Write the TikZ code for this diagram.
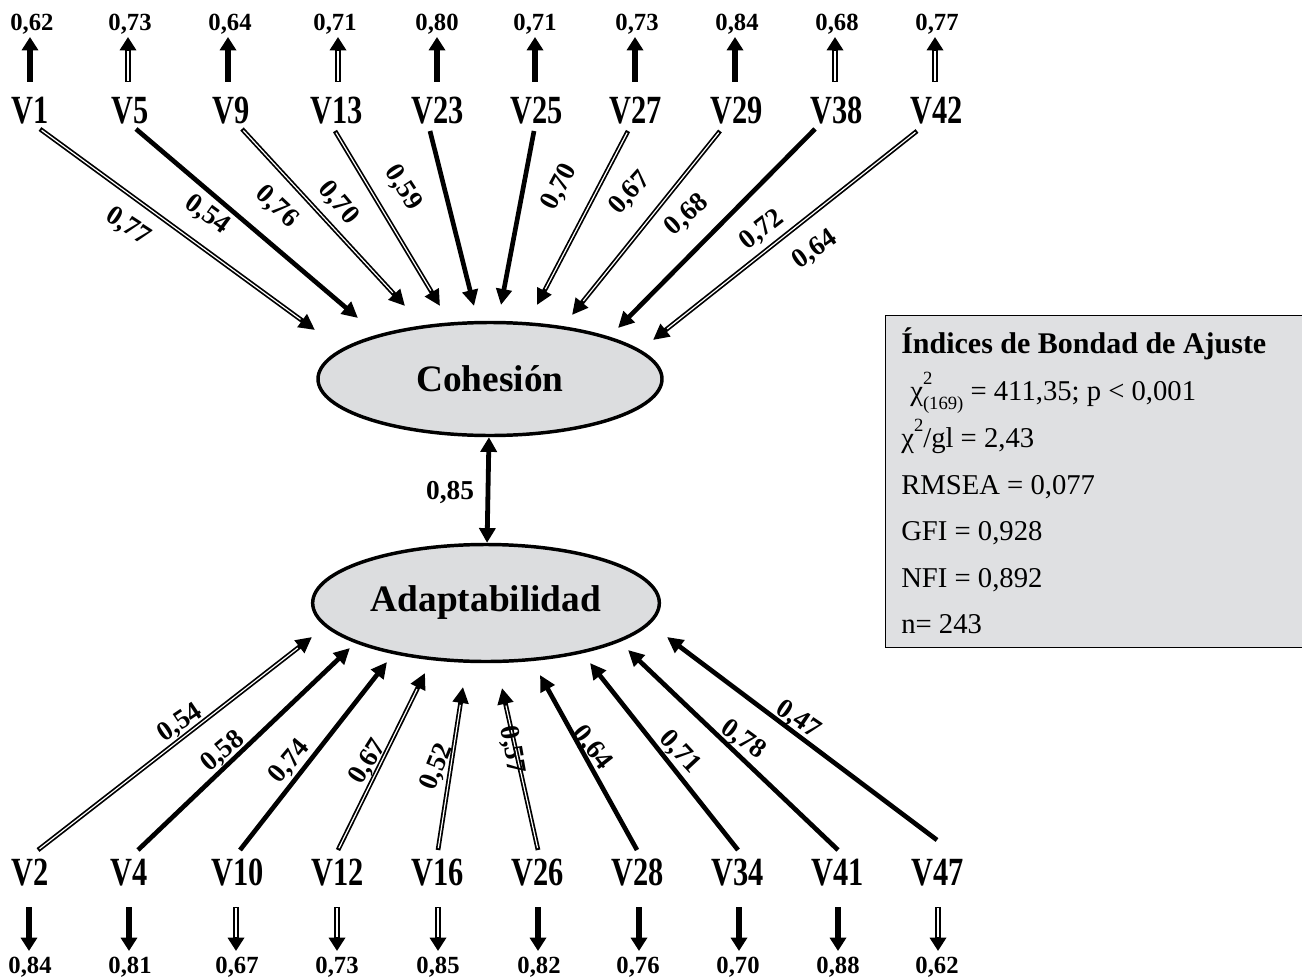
\documentclass[tikz,border=0pt]{standalone}
\usepackage{fontspec}
\usepackage{graphicx}
\setmainfont{Liberation Serif}
\usetikzlibrary{arrows.meta,shapes.geometric}
\definecolor{latfill}{HTML}{DCDDDF}
\definecolor{boxfill}{HTML}{DFE0E2}
\newcommand\vl[1]{\scalebox{0.76}[1]{#1}}
\tikzset{
  num/.style={font=\bfseries\fontsize{18.5}{19}\selectfont, inner sep=0pt, anchor=base},
  coef/.style={font=\bfseries\fontsize{20.5}{21}\selectfont, inner sep=0pt},
  var/.style={font=\bfseries\fontsize{30}{31}\selectfont, inner sep=0pt, anchor=base},
  lat/.style={ellipse, draw, fill=latfill, line width=2.6pt, inner sep=0pt,
              font=\bfseries\fontsize{28}{30}\selectfont},
  lk/.style={line width=3.5pt, -{Triangle[length=12pt,width=11.5pt]}},
  hl/.style={white, line width=0.9pt, shorten >=13.5pt, shorten <=1.5pt},
  er/.style={line width=4.2pt, -{Triangle[length=10pt,width=12pt]}},
  erhl/.style={white, line width=1.2pt, shorten >=10.5pt, shorten <=1pt},
  boxtxt/.style={font=\fontsize{21.5}{22}\selectfont, inner sep=0pt, anchor=base west},
}
\newcommand\sarr[2]{\draw[lk] (#1) -- (#2);}
\newcommand\harr[2]{\draw[lk] (#1) -- (#2); \draw[hl] (#1) -- (#2);}
\newcommand\serr[2]{\draw[er] (#1) -- (#2);}
\newcommand\herr[2]{\draw[er] (#1) -- (#2); \draw[erhl] (#1) -- (#2);}
\begin{document}
\begin{tikzpicture}[x=0.75pt,y=-0.75pt]
\useasboundingbox (0,0) rectangle (1302,977);
\fill[white] (0,0) rectangle (1302,977);

% ---------- latent variables ----------
\node[lat, minimum width=258pt, minimum height=84.75pt] (coh) at (490,379) {Cohesión};
\node[lat, minimum width=260pt, minimum height=87.75pt] (ada) at (486,603) {Adaptabilidad};
\draw[line width=3.6pt, {Triangle[length=11pt,width=12pt]}-{Triangle[length=11pt,width=12pt]}] (coh) -- (ada);
\node[coef] (r) at (450,493) {0,85};

% ---------- top observed variables ----------
\node[var] (V1)  at (30,124)  {\vl{V1}};
\node[var] (V5)  at (130,124) {\vl{V5}};
\node[var] (V9)  at (231,124) {\vl{V9}};
\node[var] (V13) at (337,124) {\vl{V13}};
\node[var] (V23) at (438,124) {\vl{V23}};
\node[var] (V25) at (537,124) {\vl{V25}};
\node[var] (V27) at (636,124) {\vl{V27}};
\node[var] (V29) at (737,124) {\vl{V29}};
\node[var] (V38) at (837,124) {\vl{V38}};
\node[var] (V42) at (937,124) {\vl{V42}};

% top error terms
\node[num] (a1)  at (32,31)  {0,62};
\node[num] (a2)  at (130,31) {0,73};
\node[num] (a3)  at (230,31) {0,64};
\node[num] (a4)  at (335,31) {0,71};
\node[num] (a5)  at (437,31) {0,80};
\node[num] (a6)  at (535,31) {0,71};
\node[num] (a7)  at (637,31) {0,73};
\node[num] (a8)  at (737,31) {0,84};
\node[num] (a9)  at (837,31) {0,68};
\node[num] (a10) at (937,31) {0,77};
\foreach \i/\x in {1/30,2/128,3/228,4/338,5/437,6/535,7/635,8/735,9/835,10/935}{
  \coordinate (ua\i) at (\x,82);
  \coordinate (ub\i) at (\x,37);
}
\serr{ua1}{ub1}
\herr{ua2}{ub2}
\serr{ua3}{ub3}
\herr{ua4}{ub4}
\serr{ua5}{ub5}
\serr{ua6}{ub6}
\serr{ua7}{ub7}
\serr{ua8}{ub8}
\herr{ua9}{ub9}
\herr{ua10}{ub10}

% top loadings
\coordinate (s1) at (40,129);   \coordinate (t1) at (315,330);
\coordinate (s2) at (136,129);  \coordinate (t2) at (358,318);
\coordinate (s3) at (242,129);  \coordinate (t3) at (405,306);
\coordinate (s4) at (335,131);  \coordinate (t4) at (440,306);
\coordinate (s5) at (430,131);  \coordinate (t5) at (474,306);
\coordinate (s6) at (534,131);  \coordinate (t6) at (501,305);
\coordinate (s7) at (628,131);  \coordinate (t7) at (537,305);
\coordinate (s8) at (720,131);  \coordinate (t8) at (572,315);
\coordinate (s9) at (815,129);  \coordinate (t9) at (618,328);
\coordinate (s10) at (917,131); \coordinate (t10) at (653,340);
\harr{s1}{t1}
\sarr{s2}{t2}
\harr{s3}{t3}
\harr{s4}{t4}
\sarr{s5}{t5}
\sarr{s6}{t6}
\harr{s7}{t7}
\harr{s8}{t8}
\sarr{s9}{t9}
\harr{s10}{t10}
\node[coef, rotate=-33] (c1)  at (128,227) {0,77};
\node[coef, rotate=-36] (c2)  at (207,215) {0,54};
\node[coef, rotate=-43] (c3)  at (277,207) {0,76};
\node[coef, rotate=-50] (c4)  at (338,203) {0,70};
\node[coef, rotate=-57] (c5)  at (403,188) {0,59};
\node[coef, rotate=62]  (c6)  at (560,187) {0,70};
\node[coef, rotate=48]  (c7)  at (630,193) {0,67};
\node[coef, rotate=42]  (c8)  at (687,215) {0,68};
\node[coef, rotate=38]  (c9)  at (762,230) {0,72};
\node[coef, rotate=35]  (c10) at (815,250) {0,64};

% ---------- bottom observed variables ----------
\node[var] (V2)  at (30,885)  {\vl{V2}};
\node[var] (V4)  at (129,885) {\vl{V4}};
\node[var] (V10) at (238,885) {\vl{V10}};
\node[var] (V12) at (338,885) {\vl{V12}};
\node[var] (V16) at (438,885) {\vl{V16}};
\node[var] (V26) at (538,885) {\vl{V26}};
\node[var] (V28) at (638,885) {\vl{V28}};
\node[var] (V34) at (738,885) {\vl{V34}};
\node[var] (V41) at (838,885) {\vl{V41}};
\node[var] (V47) at (938,885) {\vl{V47}};

% bottom error terms
\node[num] (b1)  at (30,973)  {0,84};
\node[num] (b2)  at (130,973) {0,81};
\node[num] (b3)  at (237,973) {0,67};
\node[num] (b4)  at (337,973) {0,73};
\node[num] (b5)  at (438,973) {0,85};
\node[num] (b6)  at (539,973) {0,82};
\node[num] (b7)  at (638,973) {0,76};
\node[num] (b8)  at (738,973) {0,70};
\node[num] (b9)  at (838,973) {0,88};
\node[num] (b10) at (937,973) {0,62};
\foreach \i/\x in {1/29,2/129,3/236,4/337,5/438,6/538,7/639,8/739,9/838,10/938}{
  \coordinate (da\i) at (\x,907);
  \coordinate (db\i) at (\x,951);
}
\serr{da1}{db1}
\serr{da2}{db2}
\herr{da3}{db3}
\herr{da4}{db4}
\herr{da5}{db5}
\serr{da6}{db6}
\serr{da7}{db7}
\serr{da8}{db8}
\serr{da9}{db9}
\herr{da10}{db10}

% bottom loadings
\coordinate (p1) at (38,850);   \coordinate (q1) at (312,637);
\coordinate (p2) at (138,850);  \coordinate (q2) at (350,648);
\coordinate (p3) at (240,850);  \coordinate (q3) at (387,662);
\coordinate (p4) at (338,850);  \coordinate (q4) at (425,673);
\coordinate (p5) at (438,850);  \coordinate (q5) at (463,687);
\coordinate (p6) at (538,850);  \coordinate (q6) at (502,688);
\coordinate (p7) at (637,850);  \coordinate (q7) at (540,675);
\coordinate (p8) at (738,850);  \coordinate (q8) at (590,663);
\coordinate (p9) at (838,850);  \coordinate (q9) at (628,650);
\coordinate (p10) at (937,840); \coordinate (q10) at (667,637);
\harr{p1}{q1}
\sarr{p2}{q2}
\sarr{p3}{q3}
\harr{p4}{q4}
\harr{p5}{q5}
\harr{p6}{q6}
\sarr{p7}{q7}
\sarr{p8}{q8}
\sarr{p9}{q9}
\sarr{p10}{q10}
\node[coef, rotate=34]  (d1)  at (180,723) {0,54};
\node[coef, rotate=40]  (d2)  at (223,752) {0,58};
\node[coef, rotate=50]  (d3)  at (290,762) {0,74};
\node[coef, rotate=58]  (d4)  at (368,762) {0,67};
\node[coef, rotate=68]  (d5)  at (437,767) {0,52};
\node[coef, rotate=-80] (d6)  at (512,750) {0,57};
\node[coef, rotate=-52] (d7)  at (592,748) {0,64};
\node[coef, rotate=-47] (d8)  at (680,752) {0,71};
\node[coef, rotate=-36] (d9)  at (743,740) {0,78};
\node[coef, rotate=-34] (d10) at (798,720) {0,47};

% ---------- fit indices box ----------
\node[draw, fill=boxfill, line width=1pt, anchor=north west, inner sep=0pt,
      minimum width=313.5pt, minimum height=249pt] (gof) at (885,315) {};
\node[boxtxt, font=\bfseries\fontsize{22.5}{23}\selectfont] (g0) at (901,353) {Índices de Bondad de Ajuste};
\node[boxtxt] (g1) at (910,400) {χ\rlap{\raisebox{0.55em}{\fontsize{14}{14}\selectfont 2}}\raisebox{-0.32em}{\fontsize{14}{14}\selectfont (169)} = 411,35; p < 0,001};
\node[boxtxt] (g2) at (901,447) {χ\raisebox{0.55em}{\fontsize{14}{14}\selectfont 2}/gl = 2,43};
\node[boxtxt] (g3) at (901,494) {RMSEA = 0,077};
\node[boxtxt] (g4) at (901,540) {GFI = 0,928};
\node[boxtxt] (g5) at (901,587) {NFI = 0,892};
\node[boxtxt] (g6) at (901,633) {n= 243};
\end{tikzpicture}
\end{document}
